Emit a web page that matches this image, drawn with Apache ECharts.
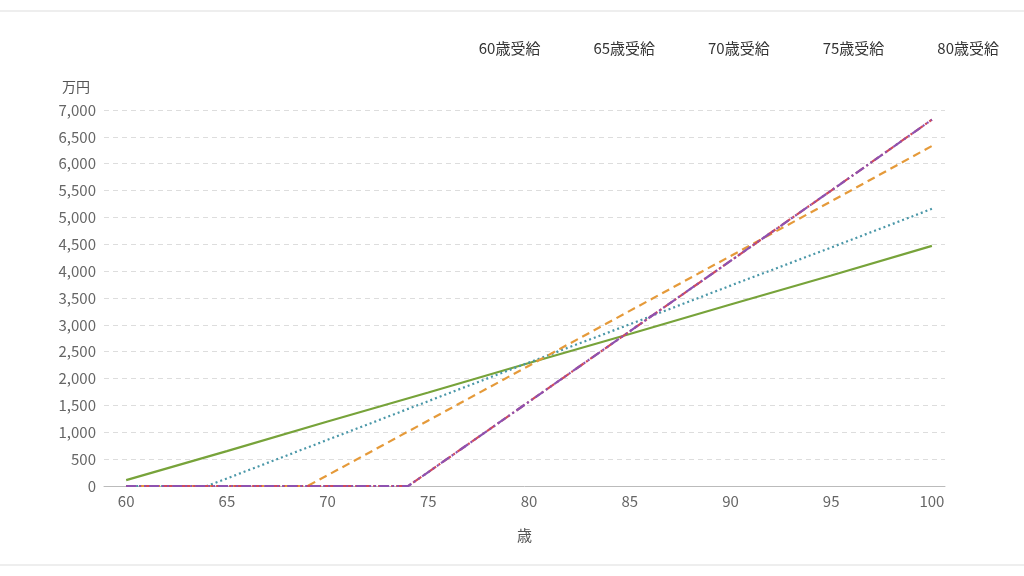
<!DOCTYPE html>
<html><head><meta charset="utf-8">
<script src="https://cdn.jsdelivr.net/npm/echarts@6/dist/echarts.min.js"></script>
<style>html,body{margin:0;padding:0;background:#fff}#c{width:1024px;height:576px}</style>
</head><body><div id="c"></div>
<script>
const seriesNames = ['60歳受給','65歳受給','70歳受給','75歳受給','80歳受給'];
const s60 = [[60,110],[65,650],[70,1200],[75,1740],[80,2290],[85,2830],[90,3380],[95,3920],[100,4470]];
const s65 = [[60,0],[64,0],[65,140],[70,860],[75,1580],[80,2300],[85,3010],[90,3730],[95,4440],[100,5160]];
const s70 = [[60,0],[69,0],[70,200],[75,1220],[80,2240],[85,3260],[90,4280],[95,5300],[100,6330]];
const s75 = [[60,0],[74,0],[75,260],[80,1570],[85,2880],[90,4190],[95,5500],[100,6820]];
const s80 = [[60,0],[74,0],[75,260],[80,1570],[85,2880],[90,4190],[95,5500],[100,6820]];
const colors = ['#77a33a','#4a97a8','#e59a3a','#d14b5a','#8e52b0'];
const dashes = ['solid',[2,3],[8,5],[10,3,2,3],[10,3,2,3,2,3]];
const datas = [s60,s65,s70,s75,s80];
const font = '"Noto Sans CJK JP", "Noto Sans", sans-serif';
const chart = echarts.init(document.getElementById('c'));
chart.setOption({
  animation:false,
  textStyle:{fontFamily:font},
  color:colors,
  legend:{top:36,right:20,itemWidth:26,itemHeight:10,itemGap:22,icon:'roundRect',
    textStyle:{fontSize:15,color:'#333',fontFamily:font},
    data:seriesNames.map((n,i)=>({name:n,icon:'none'}))},
  grid:{left:104,right:79,top:110,bottom:90,containLabel:false},
  xAxis:{type:'value',min:58.9,max:100.65,name:'歳',nameLocation:'middle',nameGap:42,
    nameTextStyle:{fontSize:15,color:'#555'},
    axisLine:{lineStyle:{color:'#bbb'}},axisTick:{show:false},splitLine:{show:false},
    axisLabel:{fontSize:15,color:'#666',customValues:[60,65,70,75,80,85,90,95,100]},
  },
  yAxis:{type:'value',min:0,max:7000,interval:500,name:'万円',nameGap:16,
    nameTextStyle:{fontSize:14,color:'#555',align:'right',padding:[0,14,0,0]},
    axisLine:{show:false},axisTick:{show:false},
    axisLabel:{fontSize:15,color:'#666',formatter:v=>v.toLocaleString('en-US')},
    splitLine:{lineStyle:{color:'#ddd',type:[5,4]}}},
  series:datas.map((d,i)=>({name:seriesNames[i],type:'line',data:d,symbol:'none',
    lineStyle:{width:2.2,color:colors[i],type:dashes[i]},itemStyle:{color:colors[i]}})),
  graphic:[
    {type:'line',shape:{x1:0,y1:11,x2:1024,y2:11},style:{stroke:'#ddd',lineWidth:1}},
    {type:'line',shape:{x1:0,y1:565,x2:1024,y2:565},style:{stroke:'#ddd',lineWidth:1}}
  ]
});
</script></body></html>
